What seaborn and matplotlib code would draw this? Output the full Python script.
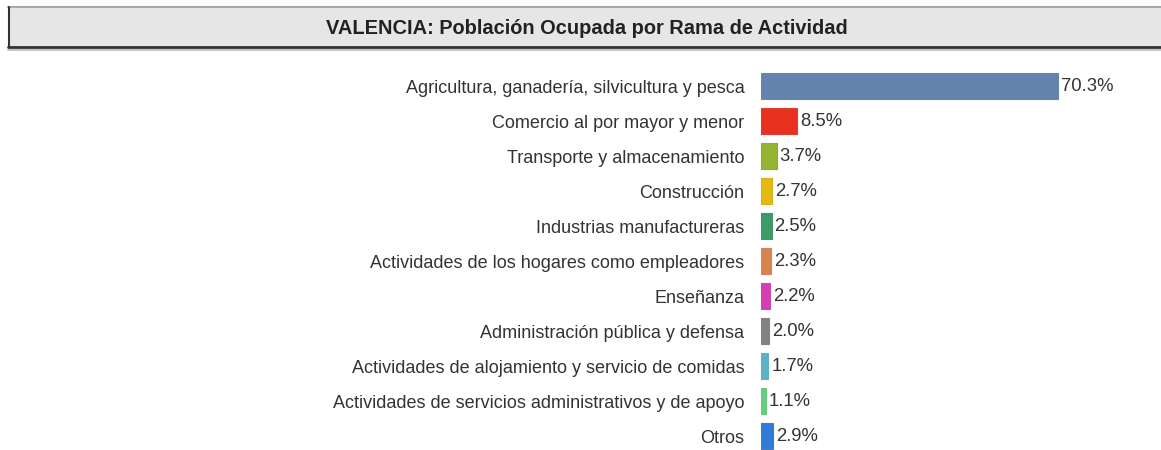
import matplotlib
matplotlib.use("Agg")
import matplotlib.pyplot as plt
import seaborn as sns
import pandas as pd
from matplotlib.patches import Rectangle
from matplotlib.lines import Line2D

TITLE = "VALENCIA: Población Ocupada por Rama de Actividad"

ramas = [
    "Agricultura, ganadería, silvicultura y pesca",
    "Comercio al por mayor y menor",
    "Transporte y almacenamiento",
    "Construcción",
    "Industrias manufactureras",
    "Actividades de los hogares como empleadores",
    "Enseñanza",
    "Administración pública y defensa",
    "Actividades de alojamiento y servicio de comidas",
    "Actividades de servicios administrativos y de apoyo",
    "Otros",
]
porcentajes = [70.3, 8.5, 3.7, 2.7, 2.5, 2.3, 2.2, 2.0, 1.7, 1.1, 2.9]
colores = ["#6584ad", "#e8321f", "#93b531", "#e6b90e", "#3d9b68", "#d9844f",
           "#d43fb4", "#828282", "#5bb3c8", "#62cf7c", "#2f7bd6"]

W, H = 1161, 450

sns.set_theme(style="white")
plt.rcParams["font.family"] = ["Liberation Sans", "DejaVu Sans"]

fig = plt.figure(figsize=(W / 100, H / 100), dpi=100)

# title box
fig.patches.append(Rectangle((8 / W, 1 - 47 / H), (W - 8) / W, 40 / H,
                             transform=fig.transFigure, facecolor="#e6e6e6",
                             edgecolor="none", zorder=0))
fig.lines.append(Line2D([8 / W, 1], [1 - 7 / H, 1 - 7 / H], transform=fig.transFigure,
                        color="#a8a8a8", lw=1.5))
fig.lines.append(Line2D([8.5 / W, 8.5 / W], [1 - 7 / H, 1 - 47 / H], transform=fig.transFigure,
                        color="#333333", lw=1.5))
fig.lines.append(Line2D([8 / W, 1], [1 - 47 / H, 1 - 47 / H], transform=fig.transFigure,
                        color="#333333", lw=2.0))
fig.lines.append(Line2D([8 / W, 1], [1 - 49.5 / H, 1 - 49.5 / H], transform=fig.transFigure,
                        color="#bbbbbb", lw=1.2))
fig.text(587 / W, 1 - 28 / H, TITLE, ha="center", va="center",
         fontsize=14.4, fontweight="bold", color="#222222")

# bars
left_px, right_px = 761, W
row_h = 35
top_px = 86 - row_h / 2
bottom_px = top_px + row_h * len(ramas)
ax = fig.add_axes([left_px / W, 1 - bottom_px / H, (right_px - left_px) / W,
                   (bottom_px - top_px) / H])

df = pd.DataFrame({"rama": ramas, "pct": porcentajes})
sns.barplot(data=df, x="pct", y="rama", hue="rama", palette=colores, legend=False,
            saturation=1, width=0.72, ax=ax, edgecolor="none")

for bar, c in zip(ax.patches, colores):
    bar.set_edgecolor(sns.desaturate(c, 0.85))
    bar.set_linewidth(0.8)

ax.set_xlim(0, (right_px - left_px) / 4.225)
ax.set_ylim(len(ramas) - 0.5, -0.5)
ax.set_xlabel("")
ax.set_ylabel("")
ax.set_xticks([])
ax.tick_params(axis="y", length=0, pad=12, labelsize=13, labelcolor="#333333")
for s in ax.spines.values():
    s.set_visible(False)
ax.patch.set_alpha(0)

for i, v in enumerate(porcentajes):
    ax.annotate(f"{v:.1f}%", (v, i), xytext=(2.2, 0), textcoords="offset points",
                ha="left", va="center", fontsize=13.3, color="#333333")

fig.savefig("out.png", dpi=100)
